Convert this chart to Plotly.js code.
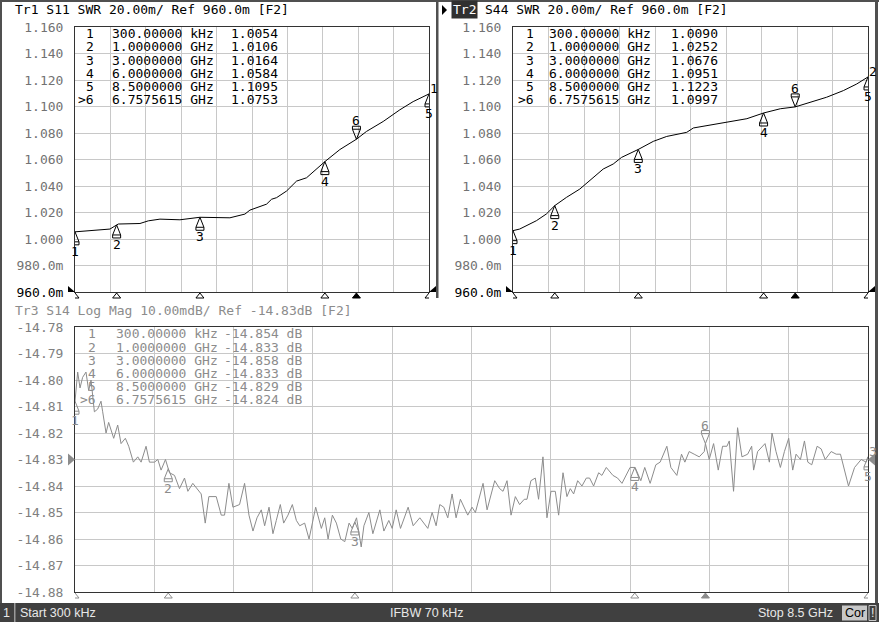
<!DOCTYPE html>
<html><head><meta charset="utf-8">
<script src="https://cdn.plot.ly/plotly-3.0.1.min.js"></script>
<style>html,body{margin:0;padding:0;background:#fff;overflow:hidden}#chart{width:879px;height:622px}</style>
</head><body><div id="chart"></div>
<script>
const W = 879, H = 622;

// ---------------- DATA ----------------
// Tr1 S11 SWR (frequency in GHz)
const tr1Freq = [0.0003, 0.3, 0.84, 1.0, 1.04, 1.56, 1.76, 2.04, 2.52, 3.0, 3.31, 3.72, 4.08, 4.2, 4.6, 4.72, 4.84, 5.08, 5.16, 5.32, 5.56, 6.0, 6.36, 6.7575615, 7.0, 7.4, 7.8, 8.12, 8.5];
const tr1Swr  = [1.0054, 1.0062, 1.0075, 1.0106, 1.0113, 1.0117, 1.0137, 1.0150, 1.0145, 1.0164, 1.0162, 1.0160, 1.0188, 1.0218, 1.0263, 1.0300, 1.0312, 1.0362, 1.0387, 1.0437, 1.0462, 1.0584, 1.0675, 1.0753, 1.0812, 1.0887, 1.0975, 1.1037, 1.1095];

// Tr2 S44 SWR
const tr2Freq = [0.0003, 0.16, 0.56, 0.80, 1.0, 1.28, 1.6, 1.92, 2.16, 2.4, 2.6, 3.0, 3.36, 3.68, 4.16, 4.32, 4.64, 5.12, 5.6, 6.0, 6.4, 6.7575615, 7.11, 7.51, 7.91, 8.23, 8.5];
const tr2Swr  = [1.0063, 1.0075, 1.0138, 1.0189, 1.0252, 1.0314, 1.0377, 1.0465, 1.0528, 1.0566, 1.0616, 1.0676, 1.0737, 1.0774, 1.0805, 1.0838, 1.0855, 1.0882, 1.0908, 1.0951, 1.0983, 1.0997, 1.1032, 1.1070, 1.1120, 1.1170, 1.1223];

// Tr3 S14 Log Mag (dB)
const tr3Freq = [0.0003, 0.029, 0.054, 0.082, 0.118, 0.147, 0.172, 0.208, 0.243, 0.279, 0.297, 0.333, 0.361, 0.387, 0.415, 0.458, 0.494, 0.540, 0.576, 0.626, 0.673, 0.709, 0.762, 0.798, 0.852, 0.888, 0.923, 0.970, 1.013, 1.067, 1.120, 1.174, 1.210, 1.263, 1.353, 1.396, 1.435, 1.514, 1.568, 1.603, 1.650, 1.693, 1.764, 1.818, 1.865, 1.908, 1.951, 1.997, 2.033, 2.080, 2.122, 2.158, 2.201, 2.237, 2.283, 2.330, 2.373, 2.409, 2.462, 2.509, 2.580, 2.641, 2.677, 2.713, 2.759, 2.802, 2.849, 2.892, 2.938, 2.972, 3.018, 3.068, 3.097, 3.150, 3.193, 3.268, 3.311, 3.364, 3.400, 3.443, 3.489, 3.571, 3.625, 3.696, 3.782, 3.828, 3.871, 3.910, 3.953, 3.996, 4.042, 4.085, 4.131, 4.210, 4.256, 4.292, 4.374, 4.417, 4.499, 4.552, 4.588, 4.631, 4.674, 4.720, 4.766, 4.816, 4.845, 4.887, 4.934, 4.969, 5.016, 5.059, 5.102, 5.148, 5.184, 5.231, 5.273, 5.309, 5.345, 5.388, 5.434, 5.481, 5.516, 5.559, 5.613, 5.648, 5.695, 5.766, 5.816, 5.863, 5.950, 6.004, 6.065, 6.107, 6.165, 6.226, 6.272, 6.344, 6.387, 6.451, 6.501, 6.537, 6.583, 6.637, 6.691, 6.745, 6.7575615, 6.798, 6.845, 6.895, 6.941, 6.988, 7.013, 7.059, 7.102, 7.149, 7.210, 7.253, 7.274, 7.317, 7.371, 7.396, 7.443, 7.471, 7.514, 7.561, 7.604, 7.650, 7.693, 7.729, 7.776, 7.819, 7.855, 7.897, 7.955, 7.998, 8.041, 8.105, 8.159, 8.205, 8.291, 8.356, 8.427, 8.480, 8.5];
const tr3Db = [-14.808, -14.797, -14.803, -14.799, -14.797, -14.804, -14.800, -14.812, -14.811, -14.808, -14.812, -14.820, -14.816, -14.819, -14.822, -14.817, -14.824, -14.822, -14.825, -14.831, -14.829, -14.831, -14.825, -14.831, -14.831, -14.830, -14.834, -14.830, -14.835, -14.836, -14.841, -14.837, -14.842, -14.839, -14.843, -14.854, -14.844, -14.844, -14.851, -14.851, -14.839, -14.848, -14.847, -14.839, -14.851, -14.857, -14.852, -14.849, -14.855, -14.848, -14.858, -14.853, -14.847, -14.854, -14.851, -14.847, -14.853, -14.855, -14.854, -14.860, -14.848, -14.856, -14.852, -14.860, -14.851, -14.854, -14.860, -14.861, -14.854, -14.856, -14.852, -14.863, -14.855, -14.850, -14.858, -14.849, -14.857, -14.853, -14.856, -14.849, -14.856, -14.848, -14.855, -14.852, -14.856, -14.850, -14.855, -14.847, -14.848, -14.852, -14.843, -14.852, -14.845, -14.851, -14.848, -14.850, -14.839, -14.849, -14.838, -14.841, -14.842, -14.838, -14.851, -14.844, -14.847, -14.845, -14.845, -14.838, -14.837, -14.845, -14.829, -14.852, -14.842, -14.842, -14.851, -14.835, -14.844, -14.841, -14.843, -14.838, -14.840, -14.837, -14.837, -14.840, -14.835, -14.836, -14.833, -14.836, -14.837, -14.839, -14.833, -14.833, -14.838, -14.833, -14.839, -14.832, -14.831, -14.825, -14.833, -14.836, -14.828, -14.831, -14.827, -14.828, -14.829, -14.827, -14.824, -14.830, -14.824, -14.834, -14.825, -14.825, -14.823, -14.842, -14.818, -14.829, -14.828, -14.825, -14.834, -14.827, -14.825, -14.824, -14.831, -14.820, -14.827, -14.833, -14.827, -14.822, -14.834, -14.828, -14.830, -14.823, -14.831, -14.832, -14.825, -14.826, -14.830, -14.827, -14.828, -14.828, -14.840, -14.833, -14.830, -14.831, -14.829];

// Markers
const markerIds = ['1', '2', '3', '4', '5', '6'];
const markerFreq = [0.0003, 1.0, 3.0, 6.0, 8.5, 6.7575615];
const markerFreqText = ['300.00000 kHz', '1.0000000 GHz', '3.0000000 GHz', '6.0000000 GHz', '8.5000000 GHz', '6.7575615 GHz'];
const tr1MarkerText = ['1.0054', '1.0106', '1.0164', '1.0584', '1.1095', '1.0753'];
const tr2MarkerText = ['1.0090', '1.0252', '1.0676', '1.0951', '1.1223', '1.0997'];
const tr3MarkerText = ['-14.854 dB', '-14.833 dB', '-14.858 dB', '-14.833 dB', '-14.829 dB', '-14.824 dB'];
const activeMarker = 5;

// Axis ticks
const swrTickVals = [0.96, 0.98, 1.00, 1.02, 1.04, 1.06, 1.08, 1.10, 1.12, 1.14, 1.16];
const swrTickText = ['960.0m', '980.0m', '1.000', '1.020', '1.040', '1.060', '1.080', '1.100', '1.120', '1.140', '1.160'];
const dbTickVals = [-14.88, -14.87, -14.86, -14.85, -14.84, -14.83, -14.82, -14.81, -14.80, -14.79, -14.78];
const dbTickText = ['-14.88', '-14.87', '-14.86', '-14.85', '-14.84', '-14.83', '-14.82', '-14.81', '-14.80', '-14.79', '-14.78'];
const swrRef = 0.96, dbRef = -14.83;
const freqStart = 0.0003, freqStop = 8.5;

// Header / status texts
const tr1Header = 'Tr1 S11 SWR 20.00m/ Ref 960.0m [F2]';
const tr2Label = 'Tr2';
const tr2Header = 'S44 SWR 20.00m/ Ref 960.0m [F2]';
const tr3Header = 'Tr3 S14 Log Mag 10.00mdB/ Ref -14.83dB [F2]';
const statusChannel = '1', statusStart = 'Start 300 kHz', statusIfbw = 'IFBW 70 kHz', statusStop = 'Stop 8.5 GHz';

// ---------------- HELPERS ----------------
const P = px => px / W;
const Q = py => 1 - py / H;
const MONO = 'DejaVu Sans Mono';
function interp(fs, vs, f) {
  if (f <= fs[0]) return vs[0];
  for (let i = 1; i < fs.length; i++) {
    if (f <= fs[i]) { const t = (f - fs[i - 1]) / (fs[i] - fs[i - 1]); return vs[i - 1] + t * (vs[i] - vs[i - 1]); }
  }
  return vs[vs.length - 1];
}

const panels = [
  { xa: 'x', ya: 'y', freq: tr1Freq, vals: tr1Swr, color: '#000', txt: '#000', id: '1', mtext: tr1MarkerText, ref: swrRef,
    refColor: '#000', numR: 95, freqL: 111, valL: 230, row0: 33.3 },
  { xa: 'x2', ya: 'y2', freq: tr2Freq, vals: tr2Swr, color: '#000', txt: '#000', id: '2', mtext: tr2MarkerText, ref: swrRef,
    refColor: '#000', numR: 535, freqL: 548, valL: 670, row0: 33.3 },
  { xa: 'x3', ya: 'y3', freq: tr3Freq, vals: tr3Db, color: '#8c8c8c', txt: '#8c8c8c', id: '3', mtext: tr3MarkerText, ref: dbRef,
    refColor: '#8c8c8c', numR: 97, freqL: 115, valL: 223, row0: 333.3 }
];

const data = panels.map(p => ({
  type: 'scatter', mode: 'lines', x: p.freq, y: p.vals, xaxis: p.xa, yaxis: p.ya,
  line: { color: p.color, width: 1 }, hoverinfo: 'skip', showlegend: false
}));

const shapes = [];
const annotations = [];

panels.forEach(p => {
  const font = { family: MONO, size: 13, color: p.txt };
  markerIds.forEach((id, i) => {
    const f = markerFreq[i];
    const v = interp(p.freq, p.vals, f);
    const active = i === activeMarker;
    // marker symbol on the trace
    shapes.push({
      type: 'path', xref: p.xa, yref: p.ya, xsizemode: 'pixel', ysizemode: 'pixel', xanchor: f, yanchor: v,
      path: active ? 'M0,0L-4,10L4,10ZM-4,10L-4,13L4,13L4,10' : 'M0,0L-4,-10L4,-10ZM-4,-10L-4,-13L4,-13L4,-10',
      line: { color: p.color, width: 1 }, fillcolor: 'rgba(0,0,0,0)', layer: 'above'
    });
    annotations.push({ xref: p.xa, yref: p.ya, x: f, y: v, text: id, showarrow: false, yshift: active ? 19 : -19,
      font: font, xanchor: 'center', yanchor: 'middle', height: 12, borderpad: 0 });
    // stimulus triangles under the x axis
    shapes.push({
      type: 'path', xref: p.xa, yref: p.ya + ' domain', xsizemode: 'pixel', ysizemode: 'pixel', xanchor: f, yanchor: 0,
      path: 'M0,-1L-4,-6L4,-6Z', line: { color: p.color, width: 1 }, fillcolor: active ? p.color : '#fff', layer: 'above'
    });
    // marker table rows
    const ry = p.row0 + i * 13.2;
    const common = { xref: 'paper', yref: 'paper', y: Q(ry), showarrow: false, yanchor: 'middle', font: font, borderpad: 0, height: 12 };
    annotations.push(Object.assign({ x: P(p.numR), text: active ? '>' + id : id, xanchor: 'right' }, common));
    annotations.push(Object.assign({ x: P(p.freqL), text: markerFreqText[i], xanchor: 'left' }, common));
    annotations.push(Object.assign({ x: P(p.valL), text: p.mtext[i], xanchor: 'left' }, common));
  });
  // trace number at the end of the trace
  annotations.push({ xref: p.xa, yref: p.ya, x: p.freq[p.freq.length - 1], y: p.vals[p.vals.length - 1], text: p.id,
    showarrow: false, xshift: 5, yshift: 6, font: font, height: 12, borderpad: 0 });
  // reference level pointers
  shapes.push({ type: 'path', xref: p.xa + ' domain', yref: p.ya, xsizemode: 'pixel', ysizemode: 'pixel', xanchor: 0, yanchor: p.ref,
    path: 'M0,0L-7,6L-7,-6Z', line: { color: p.refColor, width: 0 }, fillcolor: p.refColor, layer: 'above' });
  shapes.push({ type: 'path', xref: p.xa + ' domain', yref: p.ya, xsizemode: 'pixel', ysizemode: 'pixel', xanchor: 1, yanchor: p.ref,
    path: 'M0,0L7,6L7,-6Z', line: { color: p.refColor, width: 0 }, fillcolor: p.refColor, layer: 'above' });
});

// headers
annotations.push({ xref: 'paper', yref: 'paper', x: P(13), y: Q(10), text: tr1Header, showarrow: false, xanchor: 'left', yanchor: 'middle',
  font: { family: MONO, size: 13, color: '#000' } });
annotations.push({ xref: 'paper', yref: 'paper', x: P(451), y: Q(10), text: tr2Label, showarrow: false, xanchor: 'left', yanchor: 'middle',
  font: { family: MONO, size: 13, color: '#fff' }, bgcolor: '#303030', borderpad: 1 });
annotations.push({ xref: 'paper', yref: 'paper', x: P(483), y: Q(10), text: tr2Header, showarrow: false, xanchor: 'left', yanchor: 'middle',
  font: { family: MONO, size: 13, color: '#000' } });
annotations.push({ xref: 'paper', yref: 'paper', x: P(13), y: Q(310), text: tr3Header, showarrow: false, xanchor: 'left', yanchor: 'middle',
  font: { family: MONO, size: 13, color: '#8c8c8c' } });
shapes.push({ type: 'path', xref: 'paper', yref: 'paper', path: `M${P(442)},${Q(5)}L${P(447)},${Q(10)}L${P(442)},${Q(15)}Z`,
  fillcolor: '#000', line: { width: 0 } });

// frame borders
const rect = (x0, y0, x1, y1, fill, lineColor) => ({ type: 'rect', xref: 'paper', yref: 'paper', x0: P(x0), x1: P(x1), y0: Q(y1), y1: Q(y0),
  fillcolor: fill, line: { width: lineColor ? 1 : 0, color: lineColor || fill }, layer: 'above' });
shapes.push(rect(0, 0, W, 2, '#505050'));
shapes.push(rect(0, 0, 2, 604, '#505050'));
shapes.push(rect(875, 0, 878, 604, '#505050'));
shapes.push(rect(436, 0, 438.5, 298, '#505050'));

// status bar
shapes.push(rect(0, 603, W, H, '#404040'));
shapes.push(rect(14, 603, 15.5, H, '#9a9a9a'));
shapes.push(rect(842, 605.5, 867, 620.5, '#c8c8c8'));
shapes.push(rect(869, 605.5, 876, 620.5, '#404040', '#c8c8c8'));
const sFont = { family: 'Liberation Sans', size: 12.5, color: '#e8e8e8' };
annotations.push({ xref: 'paper', yref: 'paper', x: P(7), y: Q(613), text: statusChannel, showarrow: false, xanchor: 'center', yanchor: 'middle', font: sFont });
annotations.push({ xref: 'paper', yref: 'paper', x: P(18), y: Q(613), text: statusStart, showarrow: false, xanchor: 'left', yanchor: 'middle', font: sFont });
annotations.push({ xref: 'paper', yref: 'paper', x: P(427), y: Q(613), text: statusIfbw, showarrow: false, xanchor: 'center', yanchor: 'middle', font: sFont });
annotations.push({ xref: 'paper', yref: 'paper', x: P(835), y: Q(613), text: statusStop, showarrow: false, xanchor: 'right', yanchor: 'middle', font: sFont });
annotations.push({ xref: 'paper', yref: 'paper', x: P(854.5), y: Q(613), text: 'Cor', showarrow: false, xanchor: 'center', yanchor: 'middle',
  font: { family: 'Liberation Sans', size: 12.5, color: '#000' } });
annotations.push({ xref: 'paper', yref: 'paper', x: P(872.5), y: Q(613), text: '!', showarrow: false, xanchor: 'center', yanchor: 'middle', font: sFont });

// axes
function xAxis(d0, d1, anchor) {
  return { domain: [P(d0), P(d1)], anchor: anchor, range: [freqStart, freqStop], tick0: freqStart, dtick: (freqStop - freqStart) / 10,
    showticklabels: false, ticks: '', showgrid: true, gridcolor: '#c8c8c8', gridwidth: 1, zeroline: false,
    showline: true, mirror: true, linecolor: '#333', linewidth: 1, fixedrange: true };
}
function yAxis(t0, t1, anchor, range, vals, text, labelColor) {
  return { domain: [Q(t1), Q(t0)], anchor: anchor, range: range, tickmode: 'array', tickvals: vals, ticktext: text,
    tickfont: { family: MONO, size: 13, color: labelColor }, ticks: '', ticklabelstandoff: 8,
    showgrid: true, gridcolor: '#c8c8c8', gridwidth: 1, zeroline: false,
    showline: true, mirror: true, linecolor: '#333', linewidth: 1, fixedrange: true, automargin: false };
}
const swrText = swrTickText.map((t, i) => i === 0 ? '<span style="color:#000">' + t + '</span>' : t);

const layout = {
  width: W, height: H, margin: { l: 0, r: 0, t: 0, b: 0, pad: 0 }, paper_bgcolor: '#fff', plot_bgcolor: '#fff', showlegend: false,
  xaxis: xAxis(75, 429, 'y'),
  yaxis: yAxis(27, 292, 'x', [0.96, 1.16], swrTickVals, swrText, '#727272'),
  xaxis2: xAxis(513, 868, 'y2'),
  yaxis2: yAxis(27, 292, 'x2', [0.96, 1.16], swrTickVals, swrText, '#727272'),
  xaxis3: xAxis(75, 868, 'y3'),
  yaxis3: yAxis(327, 592, 'x3', [-14.88, -14.78], dbTickVals, dbTickText, '#808080'),
  shapes: shapes, annotations: annotations
};

Plotly.newPlot('chart', data, layout, { staticPlot: true, displayModeBar: false });
</script>
</body></html>
